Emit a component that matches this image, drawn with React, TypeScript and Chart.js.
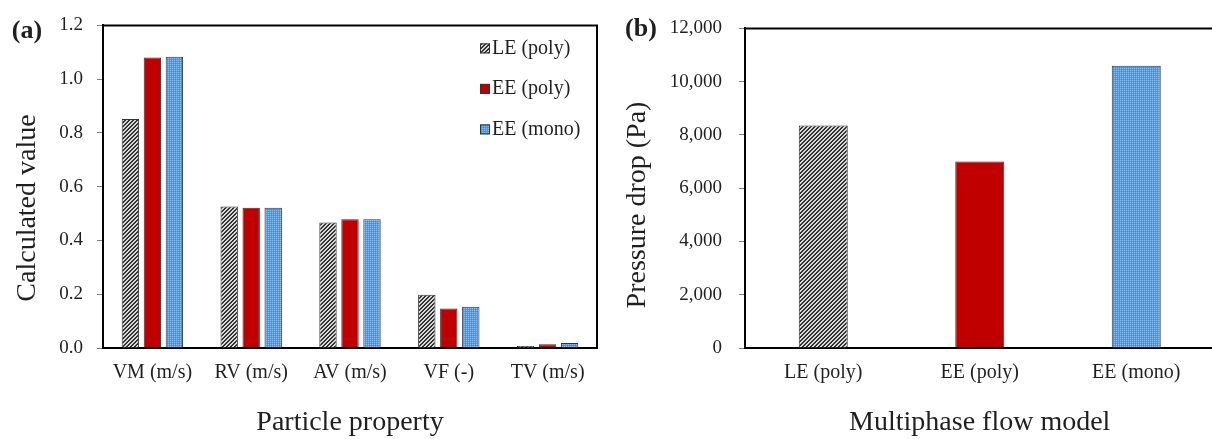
import React, { useEffect, useRef } from 'react';
import { Chart, registerables } from 'chart.js';

Chart.register(...registerables);

// ---------- data ----------
const properties = ['VM (m/s)', 'RV (m/s)', 'AV (m/s)', 'VF (-)', 'TV (m/s)'];
const seriesNames = ['LE (poly)', 'EE (poly)', 'EE (mono)'];
const lePoly = [0.852, 0.526, 0.467, 0.198, 0.007];
const eePoly = [1.081, 0.522, 0.479, 0.147, 0.014];
const eeMono = [1.083, 0.522, 0.479, 0.153, 0.019];
const yTicksA = [0, 0.2, 0.4, 0.6, 0.8, 1.0, 1.2];

const models = ['LE (poly)', 'EE (poly)', 'EE (mono)'];
const pressureDrop = [8350, 7000, 10600];
const yTicksB = [0, 2000, 4000, 6000, 8000, 10000, 12000];

// ---------- styles ----------
const FONT = "'Liberation Serif', 'Times New Roman', serif";
const TEXT = '#1f1f1f';
const RED = '#C00000';
const EDGE = '#333333';

function makeHatch(): CanvasPattern {
  const c = document.createElement('canvas');
  c.width = 4;
  c.height = 4;
  const g = c.getContext('2d')!;
  g.fillStyle = '#d9d9d9';
  g.fillRect(0, 0, 4, 4);
  g.fillStyle = '#333333';
  for (let x = 0; x < 4; x++) for (let y = 0; y < 4; y++) if ((x + y) % 4 < 2) g.fillRect(x, y, 1, 1);
  return g.createPattern(c, 'repeat')!;
}

function makeDots(): CanvasPattern {
  const c = document.createElement('canvas');
  c.width = 4;
  c.height = 4;
  const g = c.getContext('2d')!;
  g.fillStyle = '#5B9BD5';
  g.fillRect(0, 0, 4, 4);
  g.fillStyle = '#8FBCE8';
  for (let x = 0; x < 4; x += 2) for (let y = 0; y < 4; y += 2) g.fillRect(x, y, 1, 1);
  g.fillStyle = '#4A88C6';
  for (let x = 1; x < 4; x += 2) for (let y = 1; y < 4; y += 2) g.fillRect(x, y, 1, 1);
  return g.createPattern(c, 'repeat')!;
}

type TextItem = { text: string; x: number; y: number; font: string; rot?: number };

function textPlugin(id: string, items: TextItem[]) {
  return {
    id,
    afterDraw(chart: any) {
      const ctx = chart.ctx as CanvasRenderingContext2D;
      for (const t of items) {
        ctx.save();
        ctx.translate(t.x, t.y);
        ctx.rotate(t.rot || 0);
        ctx.font = t.font;
        ctx.fillStyle = TEXT;
        ctx.textAlign = 'center';
        ctx.textBaseline = 'middle';
        ctx.fillText(t.text, 0, 0);
        ctx.restore();
      }
    },
  };
}

const framePlugin = {
  id: 'frame',
  afterDraw(chart: any) {
    const { ctx, chartArea } = chart;
    ctx.save();
    ctx.strokeStyle = '#000';
    ctx.lineWidth = 2;
    ctx.beginPath();
    ctx.moveTo(chartArea.left, chartArea.top);
    ctx.lineTo(chartArea.right, chartArea.top);
    ctx.lineTo(chartArea.right, chartArea.bottom);
    ctx.stroke();
    ctx.restore();
  },
};

const legendPlugin = {
  id: 'insideLegend',
  afterDraw(chart: any) {
    const { ctx, chartArea } = chart;
    const x0 = chartArea.right - 117;
    ctx.save();
    chart.data.datasets.forEach((ds: any, i: number) => {
      const cy = chartArea.top + 23 + i * 40.5;
      ctx.fillStyle = ds.backgroundColor;
      ctx.fillRect(x0, cy - 5, 10, 10);
      ctx.strokeStyle = EDGE;
      ctx.lineWidth = 1;
      ctx.strokeRect(x0 + 0.5, cy - 4.5, 9, 9);
      ctx.fillStyle = TEXT;
      ctx.font = `20px ${FONT}`;
      ctx.textAlign = 'left';
      ctx.textBaseline = 'middle';
      ctx.fillText(ds.label, x0 + 12, cy);
    });
    ctx.restore();
  },
};

function yAxis(ticks: number[], width: number, padding: number, fmt: (v: number) => string) {
  return {
    min: ticks[0],
    max: ticks[ticks.length - 1],
    afterBuildTicks: (s: any) => {
      s.ticks = ticks.map((v) => ({ value: v }));
    },
    afterFit: (s: any) => {
      s.width = width;
    },
    grid: { display: true, drawOnChartArea: false, drawTicks: true, tickLength: 6, color: '#7f7f7f', lineWidth: 1 },
    border: { display: true, color: '#000', width: 2 },
    ticks: { font: { family: FONT, size: 19 }, color: TEXT, padding, callback: (v: any) => fmt(Number(v)) },
  };
}

function xAxis(title: string) {
  return {
    z: 1,
    afterFit: (s: any) => {
      s.height = 91;
    },
    grid: { display: false, drawTicks: false },
    border: { display: true, color: '#000', width: 2 },
    ticks: { font: { family: FONT, size: 20 }, color: TEXT, padding: 13, maxRotation: 0, autoSkip: false },
    title: { display: true, text: title, font: { family: FONT, size: 28 }, color: TEXT, padding: { top: 0, bottom: 0 } },
  };
}

function ChartBox({ width, left, build }: { width: number; left: number; build: () => any }) {
  const ref = useRef<HTMLCanvasElement>(null);
  useEffect(() => {
    const chart = new Chart(ref.current!, build());
    return () => chart.destroy();
  }, []);
  return (
    <canvas
      ref={ref}
      width={width}
      height={439}
      style={{ position: 'absolute', left, top: 0, width, height: 439, display: 'block' }}
    />
  );
}

function buildA() {
  const hatch = makeHatch();
  const dots = makeDots();
  const fills = [hatch, RED, dots];
  const values = [lePoly, eePoly, eeMono];
  return {
    type: 'bar',
    data: {
      labels: properties,
      datasets: seriesNames.map((name, i) => ({
        label: name,
        data: values[i],
        backgroundColor: fills[i],
        borderColor: EDGE,
        borderWidth: 1,
        categoryPercentage: 0.668,
        barPercentage: 0.79,
      })),
    },
    options: {
      animation: false,
      responsive: false,
      layout: { padding: { top: 21, right: 3, left: 0, bottom: 0 } },
      plugins: { legend: { display: false }, tooltip: { enabled: false } },
      scales: {
        x: xAxis('Particle property'),
        y: yAxis(yTicksA, 103, 14, (v) => v.toFixed(1)),
      },
    },
    plugins: [
      framePlugin,
      legendPlugin,
      textPlugin('textA', [
        { text: '(a)', x: 27, y: 31, font: `bold 26px ${FONT}` },
        { text: 'Calculated value', x: 28, y: 208, font: `28px ${FONT}`, rot: -Math.PI / 2 },
      ]),
    ],
  };
}

function buildB() {
  const hatch = makeHatch();
  const dots = makeDots();
  return {
    type: 'bar',
    data: {
      labels: models,
      datasets: [
        {
          label: 'Pressure drop (Pa)',
          data: pressureDrop,
          backgroundColor: [hatch, RED, dots],
          borderColor: EDGE,
          borderWidth: 1,
          categoryPercentage: 1,
          barPercentage: 0.313,
        },
      ],
    },
    options: {
      animation: false,
      responsive: false,
      layout: { padding: { top: 21, right: 5.5, left: 0, bottom: 0 } },
      plugins: { legend: { display: false }, tooltip: { enabled: false } },
      scales: {
        x: xAxis('Multiphase flow model'),
        y: yAxis(yTicksB, 145, 17, (v) => v.toLocaleString('en-US')),
      },
    },
    plugins: [
      framePlugin,
      textPlugin('textB', [
        { text: '(b)', x: 41, y: 29, font: `bold 26px ${FONT}` },
        { text: 'Pressure drop (Pa)', x: 38, y: 205, font: `28px ${FONT}`, rot: -Math.PI / 2 },
      ]),
    ],
  };
}

export default function App() {
  return (
    <div
      style={{
        position: 'absolute',
        left: 0,
        top: 0,
        width: 1212,
        height: 439,
        overflow: 'hidden',
        background: '#fff',
      }}
    >
      <ChartBox width={600} left={0} build={buildA} />
      <ChartBox width={620} left={600} build={buildB} />
    </div>
  );
}
